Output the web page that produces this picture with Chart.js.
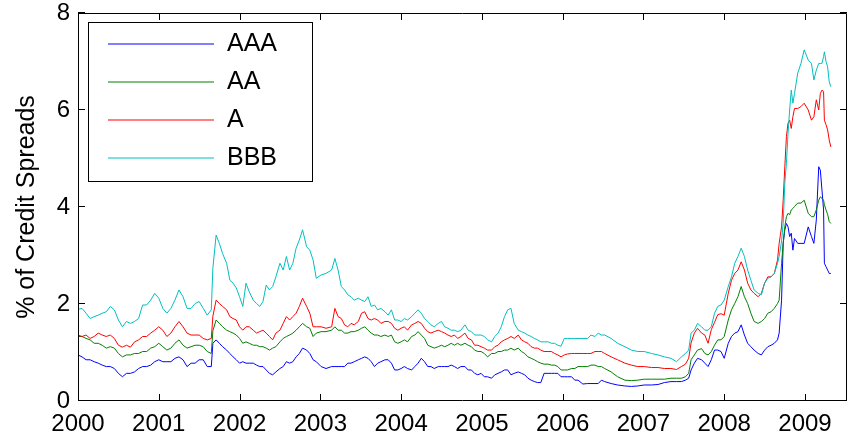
<!DOCTYPE html>
<html>
<head>
<meta charset="utf-8">
<script src="https://cdn.jsdelivr.net/npm/chart.js@4.4.1/dist/chart.umd.min.js"></script>
<style>
  html, body { margin: 0; padding: 0; background: #ffffff; }
  canvas { display: block; }
</style>
</head>
<body>
<canvas id="spreads" width="850" height="441"></canvas>
<script>
// Observation dates (decimal years)
const dates = [
  2000.00,2000.05,2000.10,2000.15,2000.20,2000.25,2000.30,2000.35,2000.40,2000.45,
  2000.50,2000.55,2000.60,2000.65,2000.70,2000.75,2000.80,2000.85,2000.90,2000.95,
  2001.00,2001.05,2001.10,2001.15,2001.20,2001.25,2001.30,2001.35,2001.40,2001.45,
  2001.50,2001.55,2001.60,2001.65,
  2001.67,2001.71,2001.75,2001.79,2001.84,2001.88,2001.92,2001.96,2002.00,2002.04,
  2002.08,2002.12,2002.17,2002.21,2002.25,2002.29,2002.33,2002.37,2002.41,2002.45,
  2002.50,2002.54,2002.58,2002.62,2002.66,2002.70,2002.74,2002.78,2002.83,2002.87,
  2002.91,2002.95,2003.01,2003.07,2003.14,2003.18,2003.22,2003.26,
  2003.30,2003.34,2003.38,2003.42,2003.47,2003.51,2003.55,2003.59,2003.63,2003.67,
  2003.71,2003.75,2003.80,2003.84,2003.88,2003.92,2003.96,2004.00,2004.04,2004.08,
  2004.13,2004.17,2004.21,2004.25,2004.29,2004.33,2004.37,2004.41,2004.46,2004.50,
  2004.54,2004.58,2004.62,2004.66,2004.70,2004.74,2004.79,2004.83,2004.87,
  2004.91,2004.95,2004.99,2005.03,2005.07,2005.12,2005.16,2005.20,2005.24,2005.28,
  2005.32,2005.36,2005.40,2005.45,2005.49,2005.53,2005.57,2005.61,2005.65,2005.69,
  2005.73,2005.77,2005.82,2005.86,2005.90,2005.94,2005.98,2006.02,2006.06,2006.11,
  2006.15,2006.19,2006.25,2006.31,2006.35,2006.40,2006.44,2006.48,
  2006.52,2006.60,2006.68,2006.77,2006.85,2006.93,2007.01,2007.10,2007.18,2007.26,
  2007.34,2007.41,2007.47,2007.52,2007.56,2007.59,2007.63,2007.67,2007.72,2007.76,
  2007.80,2007.84,2007.88,2007.92,2007.96,2008.00,
  2008.05,2008.09,2008.13,2008.17,2008.21,2008.25,2008.29,2008.33,2008.37,2008.42,
  2008.46,2008.50,2008.54,2008.58,2008.62,2008.66,2008.68,2008.71,2008.73,2008.75,
  2008.77,2008.79,2008.81,2008.83,2008.85,2008.87,2008.91,2008.95,2008.99,2009.04,
  2009.08,2009.11,2009.14,2009.17,2009.19,2009.21,2009.23,2009.24,2009.26,2009.28,
  2009.30,2009.32
];

// Credit spreads in percent, one array per rating
const spreadAAA = [
  0.95,0.91,0.85,0.85,0.81,0.78,0.74,0.71,0.71,0.67, 0.57,0.50,0.57,0.57,0.60,0.67,0.71,0.71,0.74,0.81,
  0.85,0.81,0.81,0.81,0.88,0.91,0.85,0.71,0.78,0.78, 0.85,0.85,0.71,0.71,
  1.19,1.26,1.19,1.12,1.05,0.98,0.91,0.85,0.78,0.81, 0.78,0.78,0.78,0.74,0.71,0.71,0.64,0.57,0.54,0.60,
  0.67,0.71,0.81,0.78,0.81,0.91,0.98,1.09,1.05,0.98, 0.85,0.81,0.71,0.67,0.71,0.71,0.71,0.71,
  0.71,0.78,0.78,0.81,0.85,0.88,0.91,0.88,0.81,0.71, 0.78,0.81,0.85,0.85,0.78,0.64,0.64,0.67,0.71,0.67,
  0.64,0.71,0.78,0.88,0.81,0.71,0.71,0.67,0.71,0.71, 0.71,0.71,0.74,0.71,0.67,0.71,0.71,0.64,0.64,
  0.57,0.54,0.57,0.50,0.50,0.47,0.54,0.57,0.60,0.64, 0.64,0.54,0.57,0.60,0.57,0.54,0.47,0.43,0.40,0.38,
  0.38,0.57,0.57,0.57,0.57,0.57,0.50,0.50,0.50,0.50, 0.43,0.43,0.35,0.36,0.36,0.36,0.36,0.43,
  0.40,0.36,0.33,0.31,0.30,0.31,0.33,0.33,0.34,0.38, 0.40,0.40,0.40,0.43,0.47,0.64,0.78,0.88,0.85,0.78,
  0.71,0.85,1.05,1.05,1.02,0.88,
  1.19,1.33,1.40,1.43,1.57,1.36,1.19,1.12,1.05,0.98, 0.95,1.05,1.12,1.15,1.19,1.26,1.40,2.08,3.25,3.53,
  3.66,3.59,3.39,3.46,3.11,3.35,3.25,3.25,3.25,3.59, 3.39,3.25,3.73,4.83,4.76,4.35,3.94,2.84,2.77,2.70,
  2.63,2.63
];

const spreadAA = [
  1.33,1.33,1.29,1.26,1.19,1.19,1.15,1.09,1.12,1.09, 0.98,0.91,0.95,0.95,0.98,0.98,1.02,1.02,1.09,1.12,
  1.19,1.12,1.05,1.09,1.19,1.26,1.15,1.09,1.12,1.15, 1.15,1.12,1.02,0.98,
  1.45,1.67,1.60,1.53,1.46,1.43,1.40,1.36,1.29,1.19, 1.22,1.19,1.15,1.15,1.12,1.12,1.09,1.05,1.09,1.12,
  1.22,1.29,1.33,1.36,1.40,1.46,1.53,1.60,1.53,1.50, 1.33,1.40,1.43,1.43,1.46,1.53,1.46,1.46,
  1.40,1.40,1.43,1.43,1.46,1.50,1.53,1.46,1.40,1.36, 1.36,1.33,1.36,1.33,1.36,1.22,1.19,1.22,1.26,1.22,
  1.33,1.36,1.43,1.36,1.29,1.15,1.12,1.09,1.12,1.15, 1.12,1.15,1.19,1.15,1.19,1.15,1.19,1.15,1.12,
  1.05,1.02,1.02,0.98,0.91,0.98,0.98,1.02,1.02,1.05, 1.05,1.09,1.05,1.09,1.02,0.98,0.91,0.88,0.85,0.81,
  0.78,0.76,0.76,0.74,0.74,0.71,0.64,0.64,0.64,0.67, 0.67,0.71,0.71,0.71,0.74,0.74,0.71,0.71,
  0.67,0.60,0.50,0.43,0.42,0.43,0.45,0.45,0.45,0.45, 0.47,0.47,0.47,0.50,0.57,0.85,0.95,1.05,1.08,0.98,
  0.95,1.02,1.15,1.26,1.26,1.33,
  1.67,1.88,2.01,2.15,2.36,2.15,2.01,1.81,1.64,1.60, 1.64,1.70,1.81,1.84,1.91,2.01,2.08,2.84,3.25,3.59,
  3.80,3.87,3.84,3.94,3.97,4.01,4.08,4.08,4.14,3.87, 3.80,3.80,3.94,4.14,4.21,4.18,4.14,4.05,3.94,3.85,
  3.70,3.66
];

const spreadA = [
  1.36,1.33,1.36,1.29,1.33,1.40,1.36,1.33,1.36,1.29, 1.15,1.11,1.15,1.11,1.22,1.26,1.33,1.33,1.40,1.46,
  1.53,1.46,1.33,1.40,1.53,1.64,1.53,1.40,1.36,1.36, 1.36,1.29,1.26,1.29,
  1.75,2.08,2.01,1.95,1.88,1.74,1.70,1.67,1.53,1.46, 1.53,1.53,1.46,1.40,1.43,1.46,1.40,1.33,1.26,1.40,
  1.46,1.60,1.74,1.67,1.74,1.81,1.95,2.12,1.95,1.81, 1.53,1.53,1.53,1.50,1.53,1.91,1.74,1.70,
  1.57,1.53,1.60,1.57,1.64,1.81,1.84,1.70,1.67,1.70, 1.67,1.60,1.64,1.64,1.60,1.50,1.46,1.50,1.53,1.46,
  1.57,1.60,1.64,1.60,1.50,1.43,1.40,1.43,1.46,1.43, 1.40,1.36,1.33,1.36,1.29,1.33,1.40,1.29,1.26,
  1.15,1.15,1.12,1.09,1.05,1.05,1.12,1.15,1.22,1.26, 1.29,1.33,1.29,1.36,1.26,1.22,1.19,1.12,1.09,1.09,
  1.05,1.02,1.02,1.02,0.98,0.95,0.91,0.95,0.97,0.98, 0.98,0.98,0.98,0.98,0.98,1.02,1.02,1.02,
  0.98,0.91,0.85,0.78,0.74,0.71,0.71,0.69,0.69,0.67, 0.67,0.65,0.71,0.76,0.88,1.20,1.40,1.50,1.40,1.36,
  1.19,1.47,1.62,1.78,1.80,1.77,
  2.22,2.49,2.63,2.70,2.87,2.70,2.43,2.29,2.22,2.15, 2.22,2.43,2.56,2.56,2.63,2.91,3.25,3.59,4.14,4.83,
  5.45,5.73,5.79,5.62,5.86,6.03,6.03,6.07,6.14,6.00, 5.79,5.86,6.21,6.00,6.34,6.41,6.38,5.79,5.70,5.59,
  5.38,5.24
];

const spreadBBB = [
  1.89,1.91,1.81,1.70,1.74,1.77,1.81,1.84,1.95,1.88, 1.67,1.53,1.64,1.60,1.64,1.70,1.98,1.98,2.08,2.22,
  2.12,1.91,1.81,1.91,2.08,2.29,2.15,1.91,1.91,2.01, 2.05,1.91,1.77,1.88,
  2.75,3.42,3.25,3.04,2.84,2.49,2.43,2.33,2.15,1.95, 2.43,2.25,2.08,2.01,1.95,2.05,2.39,2.29,2.36,2.56,
  2.84,2.70,2.98,2.70,2.84,3.15,3.32,3.53,3.18,3.11, 2.91,2.53,2.60,2.63,2.70,2.94,2.70,2.36,
  2.29,2.19,2.15,2.08,2.12,2.08,2.05,2.15,1.95,1.98, 1.88,1.91,1.84,1.77,1.88,1.67,1.67,1.64,1.70,1.67,
  1.74,1.81,1.88,1.81,1.70,1.64,1.57,1.53,1.60,1.64, 1.53,1.50,1.46,1.46,1.43,1.46,1.57,1.46,1.43,
  1.36,1.36,1.36,1.33,1.26,1.22,1.33,1.40,1.53,1.74, 1.88,1.91,1.60,1.46,1.43,1.40,1.36,1.33,1.29,1.26,
  1.22,1.22,1.22,1.19,1.19,1.15,1.13,1.29,1.29,1.29, 1.29,1.29,1.29,1.29,1.36,1.33,1.40,1.36,
  1.36,1.29,1.19,1.12,1.05,1.02,1.02,0.98,0.95,0.91, 0.88,0.81,0.91,0.98,1.05,1.40,1.46,1.60,1.53,1.46,
  1.46,1.53,1.81,1.95,1.98,2.08,
  2.36,2.56,2.84,2.98,3.15,2.98,2.70,2.49,2.29,2.22, 2.19,2.43,2.53,2.56,2.63,2.84,2.98,3.30,3.66,4.49,
  4.90,5.52,6.00,6.41,6.14,6.34,6.76,6.96,7.24,7.03, 6.96,6.62,6.82,6.96,6.96,6.96,7.10,7.20,7.00,6.89,
  6.58,6.48
];

const ratings = ['AAA', 'AA', 'A', 'BBB'];
const yearTicks = [2000, 2001, 2002, 2003, 2004, 2005, 2006, 2007, 2008, 2009];
const spreadTicks = [0, 2, 4, 6, 8];

const FONT = '"Liberation Sans", Arial, Helvetica, sans-serif';
const COLORS = ['#0000ff', '#008000', '#ff0000', '#00bfbf'];

function points(values) {
  return dates.map((d, i) => ({ x: d, y: values[i] }));
}

// Box around the axes with inward tick marks on all four sides
const framePlugin = {
  id: 'frame',
  afterDatasetsDraw(chart) {
    const { ctx, chartArea: a } = chart;
    const xs = chart.scales.x, ys = chart.scales.y;
    const len = 7;
    ctx.save();
    ctx.strokeStyle = '#000';
    ctx.lineWidth = 1;
    ctx.beginPath();
    ctx.rect(a.left + 0.5, a.top + 0.5, a.right - a.left - 1, a.bottom - a.top - 1);
    xs.ticks.forEach(t => {
      const px = Math.round(xs.getPixelForValue(t.value)) + 0.5;
      ctx.moveTo(px, a.bottom); ctx.lineTo(px, a.bottom - len);
      ctx.moveTo(px, a.top); ctx.lineTo(px, a.top + len);
    });
    ys.ticks.forEach(t => {
      const py = Math.round(ys.getPixelForValue(t.value)) - 0.5;
      ctx.moveTo(a.left, py); ctx.lineTo(a.left + len, py);
      ctx.moveTo(a.right, py); ctx.lineTo(a.right - len, py);
    });
    ctx.stroke();
    ctx.restore();
  }
};

// Boxed legend in the upper-left corner of the plot
const legendBoxPlugin = {
  id: 'legendBox',
  afterDraw(chart) {
    const { ctx, chartArea: a } = chart;
    const lx = a.left + 10, ly = a.top + 9, lw = 224, lh = 159;
    ctx.save();
    ctx.fillStyle = '#ffffff';
    ctx.fillRect(lx, ly, lw, lh);
    ctx.strokeStyle = '#000000';
    ctx.lineWidth = 1;
    ctx.strokeRect(lx + 0.5, ly + 0.5, lw, lh);
    ctx.font = '25px ' + FONT;
    ctx.textBaseline = 'middle';
    ctx.textAlign = 'left';
    chart.data.datasets.forEach((ds, i) => {
      const y = ly + 22 + i * 38;
      ctx.strokeStyle = COLORS[i];
      ctx.lineWidth = 1.2;
      ctx.beginPath();
      ctx.moveTo(lx + 20, y);
      ctx.lineTo(lx + 126, y);
      ctx.stroke();
      ctx.fillStyle = '#000000';
      ctx.fillText(ds.label, lx + 139, y + 0.5);
    });
    ctx.restore();
  }
};

const seriesValues = [spreadAAA, spreadAA, spreadA, spreadBBB];

new Chart(document.getElementById('spreads'), {
  type: 'line',
  data: {
    datasets: ratings.map((name, i) => ({
      label: name,
      data: points(seriesValues[i]),
      borderColor: COLORS[i],
      backgroundColor: COLORS[i],
      borderWidth: 1,
      pointRadius: 0,
      tension: 0,
      fill: false,
      order: ratings.length - i
    }))
  },
  options: {
    responsive: false,
    animation: false,
    devicePixelRatio: 1,
    layout: { padding: { top: 13, right: 3, left: 0, bottom: 0 } },
    plugins: {
      legend: { display: false },
      tooltip: { enabled: false }
    },
    scales: {
      x: {
        type: 'linear',
        min: 2000,
        max: 2009.52,
        afterBuildTicks: s => { s.ticks = yearTicks.map(v => ({ value: v })); },
        afterFit: s => { s.height = 40; s.paddingLeft = 0; s.paddingRight = 0; },
        grid: { display: false, drawTicks: false },
        border: { display: false },
        ticks: {
          color: '#000',
          font: { family: FONT, size: 24 },
          padding: 9,
          maxRotation: 0,
          autoSkip: false,
          callback: v => String(v)
        }
      },
      y: {
        type: 'linear',
        min: 0,
        max: 8,
        afterBuildTicks: s => { s.ticks = spreadTicks.map(v => ({ value: v })); },
        afterFit: s => { s.width = 78; s.paddingTop = 0; s.paddingBottom = 0; },
        grid: { display: false, drawTicks: false },
        border: { display: false },
        ticks: {
          color: '#000',
          font: { family: FONT, size: 24 },
          padding: 8,
          callback: v => String(v)
        },
        title: {
          display: true,
          text: '% of Credit Spreads',
          color: '#000',
          font: { family: FONT, size: 25 },
          padding: { top: 12, bottom: 0 }
        }
      }
    }
  },
  plugins: [framePlugin, legendBoxPlugin]
});
</script>
</body>
</html>
